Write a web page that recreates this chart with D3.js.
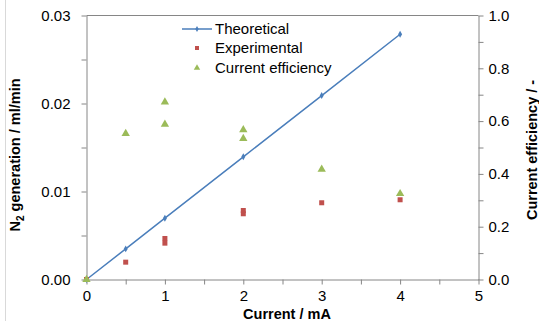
<!DOCTYPE html>
<html>
<head>
<meta charset="utf-8">
<script src="https://cdn.jsdelivr.net/npm/d3@7"></script>
<style>
  body { margin: 0; background: #fff; }
  text { font-family: "Liberation Sans", Arial, sans-serif; fill: #000; }
</style>
</head>
<body>
<div id="vis"></div>
<script>
// data
var theoCurrent = [0, 0.5, 1, 2, 3, 4];
var theoN2 = [0, 0.00348, 0.00697, 0.01394, 0.0209, 0.02787];

var expCurrent = [0, 0.5, 1, 1, 2, 2, 3, 4];
var expN2 = [0, 0.00197, 0.00466, 0.00413, 0.00784, 0.00747, 0.00872, 0.00906];

var effCurrent = [0, 0.5, 1, 1, 2, 2, 3, 4];
var effValue = [0, 0.553, 0.672, 0.588, 0.567, 0.534, 0.417, 0.325];

var xTicks = [0, 1, 2, 3, 4, 5];
var yLeftTicks = [0, 0.01, 0.02, 0.03];
var yRightTicks = [0, 0.2, 0.4, 0.6, 0.8, 1.0];
var legendLabels = ['Theoretical', 'Experimental', 'Current efficiency'];

var width = 539, height = 321;
var plot = { left: 86.5, right: 478.5, top: 15.5, bottom: 279.5 };

var blue = '#4a7ebb', red = '#c0504d', green = '#9bbb59', axisColor = '#868686';
var tickFont = '15px', titleFont = '14.5px';

var svg = d3.select('#vis').append('svg')
    .attr('width', width)
    .attr('height', height);

// outer border (left edge only visible)
svg.append('line')
    .attr('x1', 5.5).attr('x2', 5.5)
    .attr('y1', 0).attr('y2', height)
    .attr('stroke', '#d9d9d9');

var x = d3.scaleLinear().domain([0, 5]).range([plot.left, plot.right]);
var yL = d3.scaleLinear().domain([0, 0.03]).range([plot.bottom, plot.top]);
var yR = d3.scaleLinear().domain([0, 1]).range([plot.bottom, plot.top]);

// top border
svg.append('line')
    .attr('x1', plot.left).attr('x2', plot.right)
    .attr('y1', plot.top).attr('y2', plot.top)
    .attr('stroke', axisColor);

function styleAxis(g)
{
    g.selectAll('path').attr('stroke', axisColor);
    g.selectAll('line').attr('stroke', axisColor);
    g.selectAll('text')
        .style('font-size', tickFont)
        .style('font-family', '"Liberation Sans", Arial, sans-serif')
        .attr('fill', '#000');
}

// x axis: minor ticks every 0.5
var gx = svg.append('g')
    .attr('transform', 'translate(0,' + plot.bottom + ')')
    .call(d3.axisBottom(x).tickValues(d3.range(0, 5.01, 0.5)).tickSize(5).tickSizeOuter(0)
        .tickFormat(function(d) { return xTicks.indexOf(d) >= 0 ? d3.format('d')(d) : ''; }));
gx.selectAll('text').attr('y', 11);
styleAxis(gx);

// left axis: minor every 0.005
var gyl = svg.append('g')
    .attr('transform', 'translate(' + plot.left + ',0)')
    .call(d3.axisLeft(yL).tickValues(d3.range(0, 0.0301, 0.005)).tickSize(5).tickSizeOuter(0)
        .tickFormat(function(d) {
            var r = Math.round(d * 1000) / 1000;
            return yLeftTicks.some(function(t) { return Math.abs(t - r) < 1e-6; }) ? d3.format('.2f')(r) : '';
        }));
gyl.selectAll('text').attr('x', -16);
styleAxis(gyl);

// right axis: minor every 0.1
var gyr = svg.append('g')
    .attr('transform', 'translate(' + plot.right + ',0)')
    .call(d3.axisRight(yR).tickValues(d3.range(0, 1.01, 0.1)).tickSize(5).tickSizeOuter(0)
        .tickFormat(function(d) {
            var r = Math.round(d * 10) / 10;
            return yRightTicks.some(function(t) { return Math.abs(t - r) < 1e-6; }) ? d3.format('.1f')(r) : '';
        }));
gyr.selectAll('text').attr('x', 10);
styleAxis(gyr);

// axis titles
svg.append('text')
    .attr('x', 287).attr('y', 319)
    .attr('text-anchor', 'middle')
    .style('font-size', titleFont).style('font-weight', 'bold')
    .text('Current / mA');

var leftTitle = svg.append('text')
    .attr('transform', 'translate(20,' + 155 + ') rotate(-90)')
    .attr('text-anchor', 'middle')
    .style('font-size', titleFont).style('font-weight', 'bold');
leftTitle.append('tspan').text('N');
leftTitle.append('tspan').attr('dy', 4).style('font-size', '10px').text('2');
leftTitle.append('tspan').attr('dy', -4).text(' generation / ml/min');

svg.append('text')
    .attr('transform', 'translate(537,' + 150 + ') rotate(-90)')
    .attr('text-anchor', 'middle')
    .style('font-size', titleFont).style('font-weight', 'bold')
    .text('Current efficiency / -');

// theoretical line
var theo = theoCurrent.map(function(c, i) { return { x: c, y: theoN2[i] }; });
svg.append('path')
    .datum(theo)
    .attr('fill', 'none')
    .attr('stroke', blue)
    .attr('stroke-width', 1.5)
    .attr('d', d3.line().x(function(d) { return x(d.x); }).y(function(d) { return yL(d.y); }));

svg.selectAll('.theo')
    .data(theo)
    .enter().append('path')
    .attr('class', 'theo')
    .attr('transform', function(d) { return 'translate(' + x(d.x) + ',' + yL(d.y) + ')'; })
    .attr('d', d3.symbol().type(d3.symbolDiamond).size(14))
    .attr('fill', blue);

// experimental
var exp = expCurrent.map(function(c, i) { return { x: c, y: expN2[i] }; });
svg.selectAll('.exp')
    .data(exp)
    .enter().append('rect')
    .attr('class', 'exp')
    .attr('x', function(d) { return x(d.x) - 2.5; })
    .attr('y', function(d) { return yL(d.y) - 2.5; })
    .attr('width', 5).attr('height', 5)
    .attr('fill', red);

// current efficiency
var eff = effCurrent.map(function(c, i) { return { x: c, y: effValue[i] }; });
svg.selectAll('.eff')
    .data(eff)
    .enter().append('path')
    .attr('class', 'eff')
    .attr('transform', function(d) { return 'translate(' + x(d.x) + ',' + yR(d.y) + ')'; })
    .attr('d', d3.symbol().type(d3.symbolTriangle).size(30))
    .attr('fill', green);

// legend
var legend = svg.append('g').attr('transform', 'translate(182,0)');
var rows = [29, 48, 68];
legend.append('line')
    .attr('x1', 0).attr('x2', 30)
    .attr('y1', rows[0]).attr('y2', rows[0])
    .attr('stroke', blue).attr('stroke-width', 1.5);
legend.append('path')
    .attr('transform', 'translate(15,' + rows[0] + ')')
    .attr('d', d3.symbol().type(d3.symbolDiamond).size(10))
    .attr('fill', blue);
legend.append('rect')
    .attr('x', 13).attr('y', rows[1] - 2)
    .attr('width', 4).attr('height', 4)
    .attr('fill', red);
legend.append('path')
    .attr('transform', 'translate(15,' + rows[2] + ')')
    .attr('d', d3.symbol().type(d3.symbolTriangle).size(18))
    .attr('fill', green);
legend.selectAll('.ltext')
    .data(legendLabels)
    .enter().append('text')
    .attr('class', 'ltext')
    .attr('x', 33)
    .attr('y', function(d, i) { return rows[i] + 5; })
    .style('font-size', '15px')
    .text(function(d) { return d; });
</script>
</body>
</html>
